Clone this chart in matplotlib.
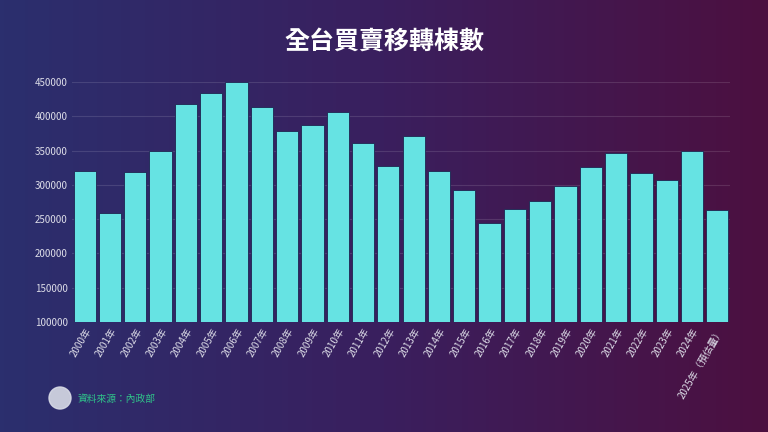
import numpy as np
import matplotlib.pyplot as plt
from matplotlib.colors import LinearSegmentedColormap
from matplotlib.patches import Ellipse

plt.rcParams['font.family'] = ['Noto Sans CJK TC', 'DejaVu Sans']

years = [f"{y}年" for y in range(2000, 2025)] + ["2025年（預估量）"]
values = [320000, 258500, 319000, 349000, 418000, 434000, 450000, 414000,
          379000, 388000, 406500, 361000, 328000, 371500, 320000, 292000,
          245000, 265000, 277000, 299000, 326000, 347000, 317000, 306500,
          350000, 264000]

fig = plt.figure(figsize=(7.68, 4.32), dpi=100)

# gradient background
bg = fig.add_axes([0, 0, 1, 1])
grad = np.linspace(0, 1, 256).reshape(1, -1)
cmap = LinearSegmentedColormap.from_list('bg', ['#2b2f6e', '#3a1f5e', '#4c1040'])
bg.imshow(grad, aspect='auto', cmap=cmap, extent=[0, 1, 0, 1])
bg.axis('off')

ax = fig.add_axes([72 / 768, 1 - 322 / 432, 658 / 768, 240 / 432])
ax.set_facecolor('none')
x = np.arange(len(values))
ax.bar(x, values, width=0.88, color='#66e3e3', edgecolor='#1d2450', linewidth=0.6, zorder=3)
ax.set_ylim(100000, 450000)
ax.set_xlim(-0.5, len(values) - 0.5)
ax.set_yticks(range(100000, 450001, 50000))
ax.set_yticklabels([str(v) for v in range(100000, 450001, 50000)], color='#dddde8', fontsize=7)
ax.set_xticks(x)
ax.set_xticklabels(years, rotation=60, ha='right', rotation_mode='anchor', color='#dddde8', fontsize=7)
ax.grid(axis='y', color='#ffffff', alpha=0.12, linewidth=0.8, zorder=0)
ax.tick_params(length=0, pad=3)
for s in ax.spines.values():
    s.set_visible(False)

fig.text(0.5, 1 - 42 / 432, '全台買賣移轉棟數', ha='center', va='center',
         color='white', fontsize=18, fontweight='bold')
fig.text(78 / 768, 1 - 399 / 432, '資料來源：內政部', ha='left', va='center',
         color='#2fc48a', fontsize=7)
fig.patches.append(Ellipse((60 / 768, 1 - 398 / 432), 22 / 768, 22 / 432,
                           transform=fig.transFigure, color='#d8dbe6', alpha=0.9))

fig.savefig('out.png', dpi=100)
